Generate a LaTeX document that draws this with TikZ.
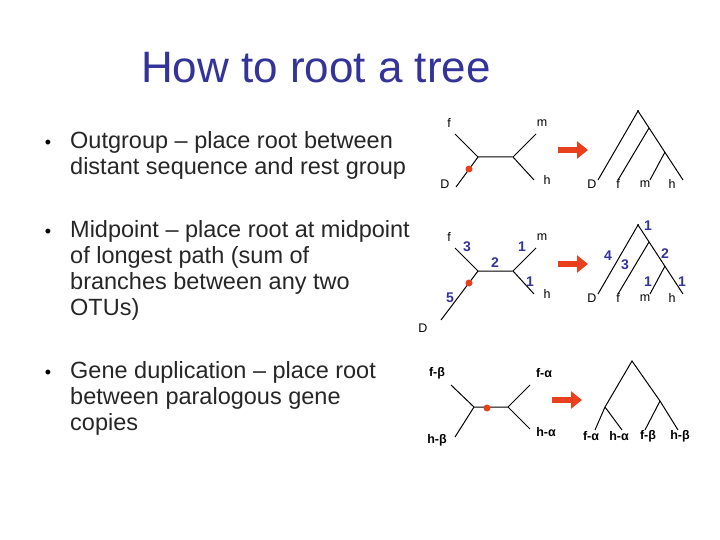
\documentclass[tikz,border=0pt]{standalone}
\usepackage{fontspec}
\setmainfont{Liberation Sans}
\usetikzlibrary{arrows.meta}
\definecolor{ttl}{HTML}{333399}
\definecolor{rd}{HTML}{E8401C}
\begin{document}
\begin{tikzpicture}[x=1pt,y=-1pt,
 br/.style={line width=1pt},
 lab/.style={font=\fontsize{12.5}{13}\selectfont,inner sep=0pt},
 blab/.style={font=\bfseries\fontsize{12.5}{13}\selectfont,inner sep=0pt},
 num/.style={font=\bfseries\fontsize{14}{15}\selectfont,text=ttl,inner sep=0pt},
 dot/.style={circle,fill=rd,inner sep=0pt,minimum size=7pt},
 bigarr/.style={draw=rd,line width=6pt,-{Triangle[length=11pt,width=17pt]}},
 bul/.style={font=\fontsize{23.5}{26}\selectfont,align=left,anchor=north west,inner sep=0pt,text=black!85}]
\useasboundingbox (0,0) rectangle (720,540);
\node[font=\fontsize{44}{48}\selectfont,text=ttl] (title) at (316,68) {How to root a tree};
\foreach \y/\t in {131/{Outgroup – place root between\\distant sequence and rest group},
 220/{Midpoint – place root at midpoint\\of longest path (sum of\\branches between any two\\OTUs)},
 361/{Gene duplication – place root\\between paralogous gene\\copies}}
 {\node[bul] at (70,\y) {\t};
  \node[font=\fontsize{18}{18}\selectfont] at (48,\y+13) {•};}
% tree 1
\coordinate (a1) at (478,157); \coordinate (b1) at (513,157);
\coordinate (f1) at (455,134); \coordinate (m1) at (536,134);
\coordinate (h1) at (534,180); \coordinate (d1) at (456,187);
\draw[br] (f1)--(a1)--(b1)--(m1) (b1)--(h1) (a1)--(d1);
\node[dot] (r1) at (469,169) {};
\node[lab] at (449,123) {f}; \node[lab] at (542,123) {m};
\node[lab] at (445,184) {D}; \node[lab] at (547,180) {h};
\coordinate (p1) at (558,150); \coordinate (q1) at (588,150);
\draw[bigarr] (p1)--(q1);
\coordinate (t1) at (638,111); \coordinate (u1) at (649,128); \coordinate (v1) at (665,152);
\draw[br] (598,180)--(t1)--(683,180) (u1)--(618,180) (v1)--(650,180);
\fill (t1) circle (1pt);
\node[lab] at (592,184) {D}; \node[lab] at (618,184) {f};
\node[lab] at (645,184) {m}; \node[lab] at (672,184) {h};
% tree 2
\coordinate (a2) at (478,271); \coordinate (b2) at (513,271);
\draw[br] (455,248)--(a2)--(b2)--(536,248) (b2)--(534,294) (a2)--(441,320);
\node[dot] (r2) at (469,283) {};
\node[lab] at (449,237) {f}; \node[lab] at (542,237) {m};
\node[lab] at (423,328) {D}; \node[lab] at (547,294) {h};
\node[num] at (467,247) {3}; \node[num] at (495,263) {2};
\node[num] at (522,247) {1}; \node[num] at (530,282) {1};
\node[num] at (450,298) {5};
\draw[bigarr] (558,264)--(588,264);
\coordinate (t2) at (638,225); \coordinate (u2) at (649,242); \coordinate (v2) at (665,266);
\draw[br] (598,294)--(t2)--(683,294) (u2)--(618,294) (v2)--(650,294);
\fill (t2) circle (1pt);
\node[lab] at (592,298) {D}; \node[lab] at (618,298) {f};
\node[lab] at (645,298) {m}; \node[lab] at (672,298) {h};
\node[num] at (648,226) {1}; \node[num] at (608,256) {4};
\node[num] at (625,265) {3}; \node[num] at (665,254) {2};
\node[num] at (648,282) {1}; \node[num] at (682,282) {1};
% tree 3
\coordinate (a3) at (474,407); \coordinate (b3) at (508,407);
\draw[br] (451,385)--(a3)--(b3)--(530,385) (b3)--(530,429) (a3)--(455,437);
\node[dot] (r3) at (487,408) {};
\node[blab] at (437,373) {f-β}; \node[blab] at (544,373) {f-α};
\node[blab] at (546,432) {h-α}; \node[blab] at (437,440) {h-β};
\draw[bigarr] (552,400)--(582,400);
\coordinate (t3) at (632,361); \coordinate (l3) at (605,407); \coordinate (r3c) at (660,401);
\draw[br] (595,430)--(l3)--(t3)--(r3c)--(678,430) (l3)--(622,430) (r3c)--(645,430);
\node[blab] at (591,436) {f-α}; \node[blab] at (619,436) {h-α};
\node[blab] at (648,436) {f-β}; \node[blab] at (680,436) {h-β};
\end{tikzpicture}
\end{document}
